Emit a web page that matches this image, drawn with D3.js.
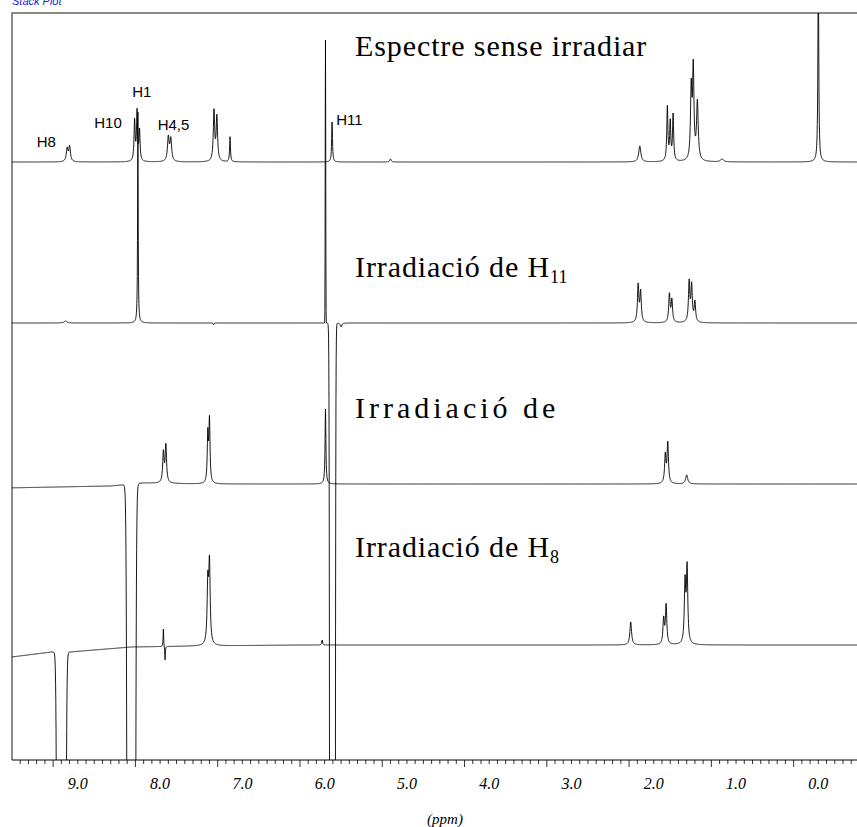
<!DOCTYPE html>
<html>
<head>
<meta charset="utf-8">
<script src="https://cdn.jsdelivr.net/npm/d3@7"></script>
<style>
  body { margin: 0; background: #fff; }
  svg { display: block; }
</style>
</head>
<body>
<div id="chart"></div>
<script>
// ---- data ----
var axisValues = [9, 8, 7, 6, 5, 4, 3, 2, 1, 0];
var axisLabels = ["9.0", "8.0", "7.0", "6.0", "5.0", "4.0", "3.0", "2.0", "1.0", "0.0"];

var titles = ["Espectre sense irradiar", "Irradiació de H", "Irradiació   de", "Irradiació de H"];
var titleSubs = ["", "11", "", "8"];

var peakLabels = ["H8", "H10", "H1", "H4,5", "H11"];
var peakLabelPpm = [9.50, 8.80, 8.34, 8.03, 5.86];

// spectrum 1 : no irradiation  (ppm, height, width)
var s1Ppm    = [9.13, 9.10, 8.31, 8.28, 8.25, 7.90, 7.87, 7.345, 7.31, 7.15, 5.91, 5.20, 2.17, 1.835, 1.80, 1.765, 1.545, 1.52, 1.47, 1.17, 0.00];
var s1Height = [13, 15, 40, 49, 30, 24, 22, 50, 44, 25, 40, 3, 16, 54, 38, 46, 70, 90, 58, 3, 200];
var s1Width  = [0.012, 0.012, 0.008, 0.008, 0.008, 0.012, 0.012, 0.01, 0.01, 0.006, 0.006, 0.01, 0.015, 0.008, 0.008, 0.008, 0.01, 0.01, 0.012, 0.02, 0.006];

// spectrum 2 : irradiation of H11
var s2Ppm    = [9.15, 8.27, 7.35, 5.99, 5.905, 5.80, 2.19, 2.16, 1.81, 1.78, 1.57, 1.54, 1.50];
var s2Height = [2, 211, -2, 283, -40000, -4, 37, 30, 28, 22, 40, 36, 20];
var s2Width  = [0.02, 0.004, 0.004, 0.003, 0.012, 0.01, 0.01, 0.01, 0.01, 0.01, 0.01, 0.01, 0.01];
var s2Shape  = ["L", "L", "L", "G", "G", "L", "L", "L", "L", "L", "L", "L", "L"];

// spectrum 3 : irradiation of H1
var s3Ppm    = [8.35, 7.96, 7.93, 7.42, 7.40, 5.99, 1.86, 1.83, 1.60];
var s3Height = [-13000, 30, 37, 48, 62, 75, 28, 40, 9];
var s3Width  = [0.02, 0.01, 0.01, 0.008, 0.008, 0.006, 0.01, 0.01, 0.015];
var s3Shape  = ["G", "L", "L", "L", "L", "L", "L", "L", "L"];
var s3DriftPpm = [9.9, 8.6, 8.2, 7.5, -0.5];
var s3Drift    = [-4, -2, 1, 0, 0];

// spectrum 4 : irradiation of H8
var s4Ppm    = [9.20, 7.96, 7.94, 7.42, 7.40, 6.03, 2.28, 1.88, 1.85, 1.62, 1.595];
var s4Height = [-15000, 18, -14, 60, 79, 5, 23, 25, 39, 60, 75];
var s4Width  = [0.02, 0.004, 0.004, 0.01, 0.01, 0.006, 0.012, 0.01, 0.01, 0.01, 0.01];
var s4Shape  = ["G", "L", "L", "L", "L", "L", "L", "L", "L", "L", "L"];
var s4DriftPpm = [9.9, 9.32, 9.1, 8.35, 7.5, 6.3, -0.5];
var s4Drift    = [-13, -7, -7, -2, -1, 0, 0];

// ---- layout ----
var width = 857, height = 827;
var frame = {left: 12, top: 13, right: 857, bottom: 760};
var baselines = [162, 323, 484, 645];

var svg = d3.select("#chart").append("svg")
  .attr("width", width)
  .attr("height", height);

var x = d3.scaleLinear().domain([9.8, -0.47]).range([frame.left, frame.right]);

svg.append("defs").append("clipPath").attr("id", "plotclip")
  .append("rect")
  .attr("x", frame.left).attr("y", frame.top)
  .attr("width", frame.right - frame.left)
  .attr("height", frame.bottom - frame.top);

// "Stack Plot" caption, cut by the top of the page
svg.append("text")
  .attr("x", 12).attr("y", 5)
  .style("font-family", "Liberation Sans, Arial, sans-serif")
  .style("font-style", "italic")
  .style("font-size", "11px")
  .attr("fill", "#2222dd")
  .text("Stack Plot");

// frame
svg.append("path")
  .attr("d", "M" + frame.left + "," + frame.bottom + "V" + frame.top + "H" + frame.right)
  .attr("fill", "none")
  .attr("stroke", "#666")
  .attr("stroke-width", 1.5);

function makeSpectrum(ppm, h, w, shape, driftPpm, drift) {
  var grid = d3.range(9.9, -0.5, -0.0025).concat(ppm);
  grid.sort(function(a, b) { return b - a; });
  var driftScale = driftPpm ? d3.scaleLinear().domain(driftPpm).range(drift) : function() { return 0; };
  return grid.map(function(p) {
    var v = driftScale(p);
    for (var i = 0; i < ppm.length; i++) {
      var d = p - ppm[i];
      if (shape && shape[i] === "G") v += h[i] * Math.exp(-d * d / (2 * w[i] * w[i]));
      else v += h[i] * w[i] * w[i] / (d * d + w[i] * w[i]);
    }
    return [p, v];
  });
}

var spectra = [
  makeSpectrum(s1Ppm, s1Height, s1Width, null),
  makeSpectrum(s2Ppm, s2Height, s2Width, s2Shape),
  makeSpectrum(s3Ppm, s3Height, s3Width, s3Shape, s3DriftPpm, s3Drift),
  makeSpectrum(s4Ppm, s4Height, s4Width, s4Shape, s4DriftPpm, s4Drift)
];

var plot = svg.append("g").attr("clip-path", "url(#plotclip)");

spectra.forEach(function(pts, k) {
  var y = d3.scaleLinear().domain([0, 100]).range([baselines[k], baselines[k] - 100]);
  var line = d3.line()
    .x(function(d) { return x(d[0]); })
    .y(function(d) { return Math.max(-50, Math.min(900, y(d[1]))); });
  plot.append("path")
    .datum(pts)
    .attr("d", line)
    .attr("fill", "none")
    .attr("stroke", "#000")
    .attr("stroke-width", 0.9);
});

// peak labels on the top spectrum
var labelY = [147, 128, 97, 130, 125];
svg.selectAll(".plabel")
  .data(peakLabels)
  .enter().append("text")
  .attr("class", "plabel")
  .attr("x", function(d, i) { return x(peakLabelPpm[i]); })
  .attr("y", function(d, i) { return labelY[i]; })
  .style("font-family", "Liberation Sans, Arial, sans-serif")
  .style("font-size", "15px")
  .text(function(d) { return d; });

// spectrum titles
var titleY = [56, 277, 418, 557];
titles.forEach(function(t, i) {
  var txt = svg.append("text")
    .attr("x", 355)
    .attr("y", titleY[i])
    .style("font-family", "Liberation Serif, Times New Roman, serif")
    .style("font-size", "30px")
    .style("letter-spacing", i === 2 ? "4px" : "0.9px")
    .text(t);
  if (titleSubs[i]) {
    txt.append("tspan")
      .attr("dy", 6)
      .style("font-size", "18px")
      .style("letter-spacing", "0px")
      .text(titleSubs[i]);
  }
});

// x axis
var minorTicks = d3.range(-4, 98).map(function(v) { return v / 10; });
var gAxis = svg.append("g").attr("transform", "translate(0," + frame.bottom + ")");
gAxis.append("path")
  .attr("d", "M" + frame.left + ",0H" + frame.right)
  .attr("stroke", "#000");
gAxis.selectAll(".tk")
  .data(minorTicks)
  .enter().append("line")
  .attr("x1", function(d) { return x(d); })
  .attr("x2", function(d) { return x(d); })
  .attr("y1", 0)
  .attr("y2", function(d) { return (Math.round(d * 10) % 10 === 3) ? 7 : 4; })
  .attr("stroke", "#000")
  .attr("stroke-width", 0.8);

gAxis.selectAll(".tl")
  .data(axisValues)
  .enter().append("text")
  .attr("x", function(d) { return x(d); })
  .attr("y", 29)
  .attr("text-anchor", "middle")
  .style("font-family", "Liberation Serif, Times New Roman, serif")
  .style("font-style", "italic")
  .style("font-size", "16px")
  .text(function(d, i) { return axisLabels[i]; });

svg.append("text")
  .attr("x", 445)
  .attr("y", 824)
  .attr("text-anchor", "middle")
  .style("font-family", "Liberation Serif, Times New Roman, serif")
  .style("font-style", "italic")
  .style("font-size", "15px")
  .text("(ppm)");
</script>
</body>
</html>
